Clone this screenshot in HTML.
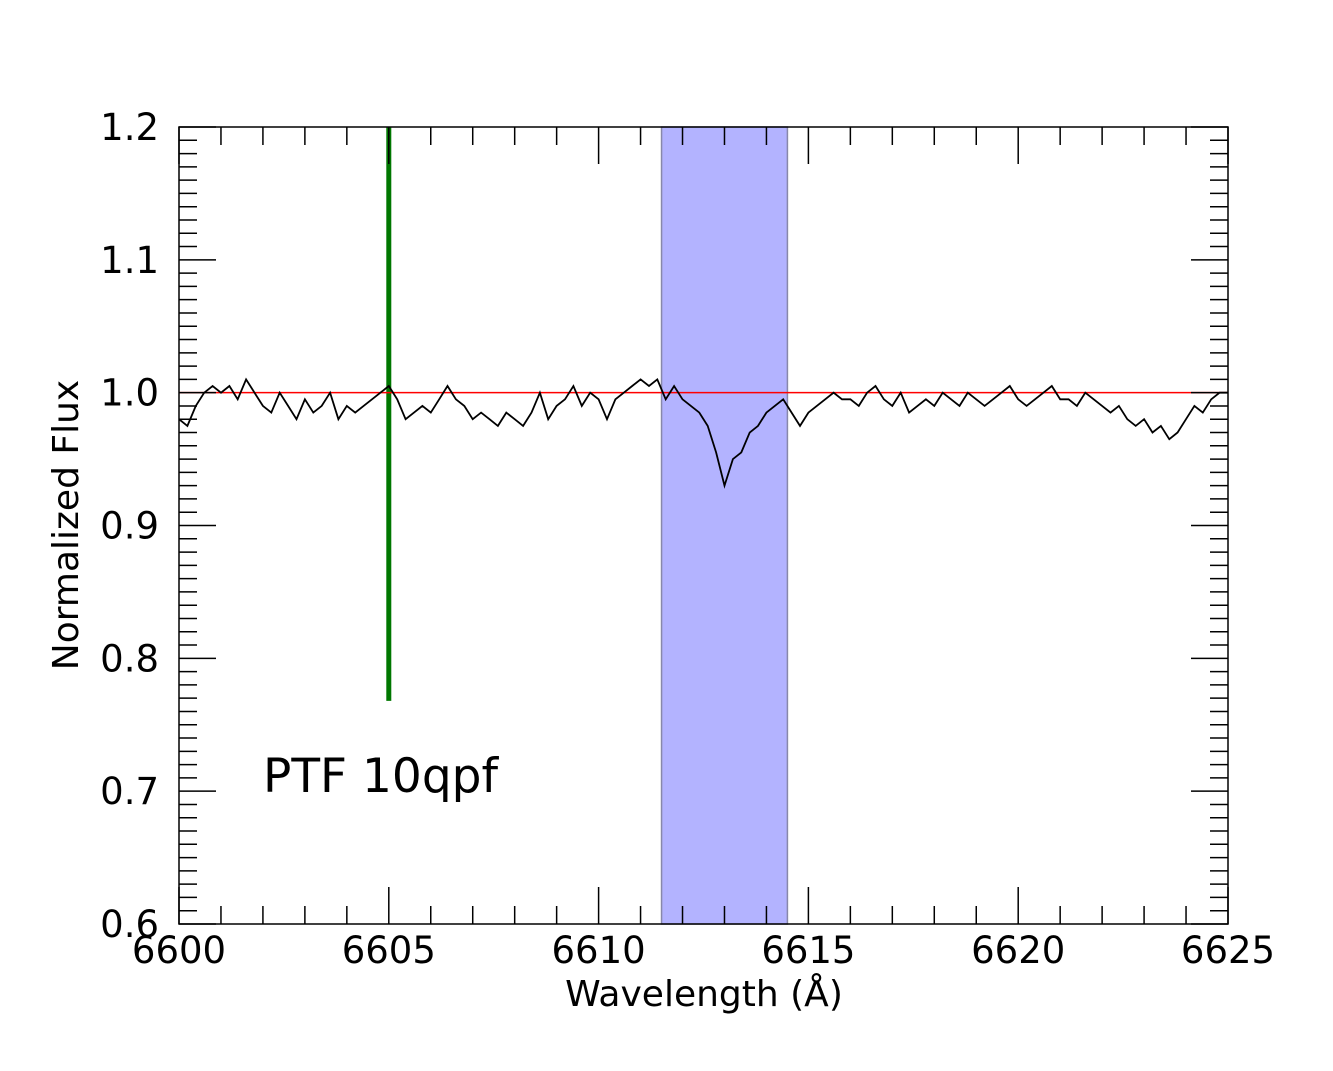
<!DOCTYPE html>
<html><head><meta charset="utf-8"><style>
body{margin:0;background:#fff}
svg text{font-family:"DejaVu Sans","Liberation Sans",sans-serif;fill:#000}
</style></head><body>
<svg id="chart" width="1333" height="1066" xmlns="http://www.w3.org/2000/svg"></svg>
<script>
const xTicks=[6600,6605,6610,6615,6620,6625];
const yTicks=[0.6,0.7,0.8,0.9,1.0,1.1,1.2];
const yTickLabels=["0.6","0.7","0.8","0.9","1.0","1.1","1.2"];
const bandRange=[6611.5,6614.5];
const markerWave=6605.0;
const markerRange=[0.768,1.2];
const continuumLevel=1.0;
const waveStart=6600.0, waveStep=0.2;
const flux=[0.98,0.975,0.99,1.0,1.005,1.0,
1.005,0.995,1.01,1.0,0.99,
0.985,1.0,0.99,0.98,0.995,
0.985,0.99,1.0,0.98,0.99,
0.985,0.99,0.995,1.0,1.005,
0.995,0.98,0.985,0.99,0.985,
0.995,1.005,0.995,0.99,0.98,
0.985,0.98,0.975,0.985,0.98,
0.975,0.985,1.0,0.98,0.99,
0.995,1.005,0.99,1.0,0.995,
0.98,0.995,1.0,1.005,1.01,
1.005,1.01,0.995,1.005,0.995,
0.99,0.985,0.975,0.955,0.93,
0.95,0.955,0.97,0.975,0.985,
0.99,0.995,0.985,0.975,0.985,
0.99,0.995,1.0,0.995,0.995,
0.99,1.0,1.005,0.995,0.99,
1.0,0.985,0.99,0.995,0.99,
1.0,0.995,0.99,1.0,0.995,
0.99,0.995,1.0,1.005,0.995,
0.99,0.995,1.0,1.005,0.995,
0.995,0.99,1.0,0.995,0.99,
0.985,0.99,0.98,0.975,0.98,
0.97,0.975,0.965,0.97,0.98,
0.99,0.985,0.995,1.0,1.0];

const L=179,R=1228,T=127,B=924;
const X=w=>L+(w-6600)/25*(R-L);
const Y=v=>B-(v-0.6)/0.6*(B-T);
const svg=document.getElementById('chart');
const NS="http://www.w3.org/2000/svg";
function mk(tag,attrs){const e=document.createElementNS(NS,tag);for(const k in attrs)e.setAttribute(k,attrs[k]);svg.appendChild(e);return e;}

let e=mk('rect',{x:X(bandRange[0]),y:T,width:X(bandRange[1])-X(bandRange[0]),height:B-T,fill:'#b3b3ff',stroke:'#8888aa','stroke-width':1.5});



e=mk('line',{x1:X(markerWave),x2:X(markerWave),y1:Y(markerRange[1]),y2:Y(markerRange[0]),stroke:'#007700','stroke-width':5});



e=mk('line',{x1:L,x2:R,y1:Y(continuumLevel),y2:Y(continuumLevel),stroke:'#ff0000','stroke-width':1.5});



const pts=flux.map((v,i)=>X(waveStart+i*waveStep).toFixed(1)+','+Y(v).toFixed(1)).join(' ');
e=mk('polyline',{points:pts,fill:'none',stroke:'#000','stroke-width':1.8});



e=mk('rect',{x:L,y:T,width:R-L,height:B-T,fill:'none',stroke:'#000','stroke-width':1.5});



for(let w=6600;w<=6625;w++){
  const major=(w%5===0), len=major?37:18;
  e=mk('line',{x1:X(w),x2:X(w),y1:B,y2:B-len,stroke:'#000','stroke-width':1.5});
  
  
  e=mk('line',{x1:X(w),x2:X(w),y1:T,y2:T+len,stroke:'#000','stroke-width':1.5});
  
  
}
xTicks.forEach(w=>{
  const t=mk('text',{x:X(w),y:963,'font-size':37,'text-anchor':'middle'});t.textContent=w;
  
  
});
for(let i=0;i<=60;i++){
  const v=0.6+i*0.01, major=(i%10===0), len=major?37:18;
  e=mk('line',{x1:L,x2:L+len,y1:Y(v),y2:Y(v),stroke:'#000','stroke-width':1.5});
  
  
  e=mk('line',{x1:R,x2:R-len,y1:Y(v),y2:Y(v),stroke:'#000','stroke-width':1.5});
  
  
}
yTicks.forEach((v,i)=>{
  const t=mk('text',{x:159,y:Y(v)+13,'font-size':37,'text-anchor':'end'});t.textContent=yTickLabels[i];
  
  
});
let t=mk('text',{x:704,y:1006,'font-size':36,'text-anchor':'middle'});t.textContent='Wavelength (Å)';


t=mk('text',{x:0,y:0,'font-size':36,'text-anchor':'middle',transform:'translate(78,525) rotate(-90)'});t.textContent='Normalized Flux';


t=mk('text',{x:263,y:792,'font-size':47});t.textContent='PTF 10qpf';


</script>
</body></html>
